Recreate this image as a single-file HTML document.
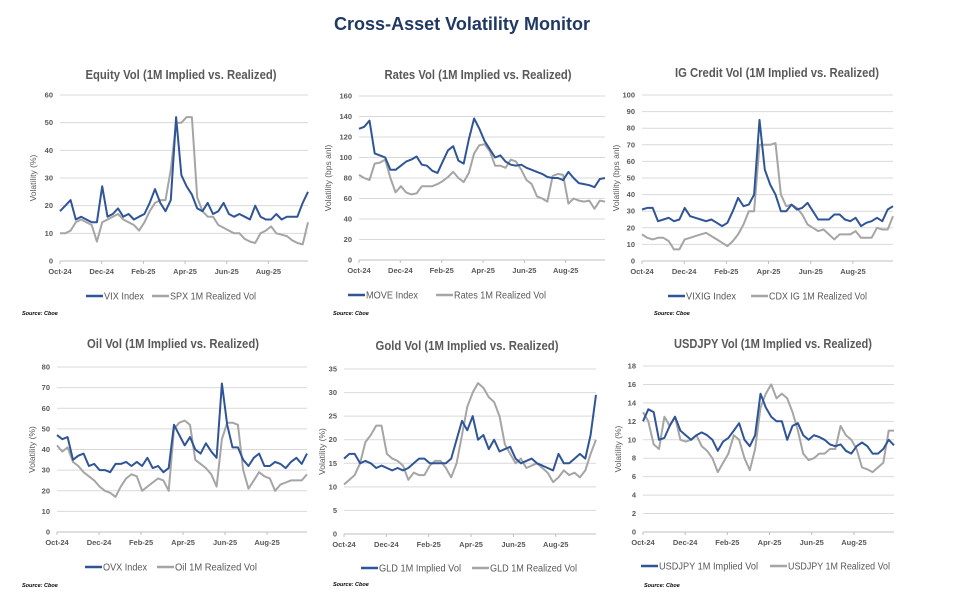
<!DOCTYPE html>
<html><head><meta charset="utf-8"><style>
html,body{margin:0;padding:0;background:#fff;}
svg{display:block;font-family:"Liberation Sans",sans-serif;}
</style></head><body>
<svg id="root" width="971" height="597" viewBox="0 0 971 597" xmlns="http://www.w3.org/2000/svg">
<text x="462" y="30" text-anchor="middle" font-size="18" font-weight="bold" fill="#1f3864" textLength="256" lengthAdjust="spacingAndGlyphs">Cross-Asset Volatility Monitor</text>
</svg>
<script>
// ---- shared axis data ----
const tickMonths = [0, 2, 4, 6, 8, 10];
const tickLabels = ["Oct-24", "Dec-24", "Feb-25", "Apr-25", "Jun-25", "Aug-25"];
const spanMonths = 11.9;

// ---- Equity ----
const vixValues = [18,20,22,15,16,15,14,14,27,16,17,19,16,17,15,16,17,21,26,21,18,22,52,31,27,24,19,18,21,17,18,21,17,16,17,16,15,20,16,15,15,17,15,16,16,16,21,25];
const spxRealized = [10,10,11,14,15,14,13,7,14,15,16,17,15,14,13,11,14,18,21,22,22,33,50,50,52,52,23,18,16,16,13,12,11,10,10,8,7,6.5,10,11,12.5,10,9.5,9,7.5,6.5,6,14];
const equityTicks = [0,10,20,30,40,50,60];
// ---- Rates ----
const moveValues = [128,130,136,104,102,100,88,88,92,96,98,101,93,92,87,85,96,107,111,97,94,118,138,128,116,108,100,102,96,93,92,93,90,88,86,84,81,80,80,78,86,80,75,74,73,71,79,80];
const ratesRealized = [83,80,78,94,95,98,80,66,72,66,64,65,72,72,72,74,77,81,86,80,76,85,104,112,113,106,92,92,90,98,96,88,78,74,62,60,57,82,84,83,55,60,58,57,58,50,58,57];
const ratesTicks = [0,20,40,60,80,100,120,140,160];
// ---- IG credit ----
const vixigValues = [31,32,32,24,25,26,24,25,32,27,26,25,24,25,23,21,23,30,38,33,34,40,85,55,46,40,30,30,34,31,32,35,30,25,25,25,28,28,25,24,26,21,23,24,26,24,31,33];
const cdxRealized = [16,14,13,14,14,12,7,7,13,14,15,16,17,15,13,11,9,12,16,22,30,30,70,70,70,71,40,33,34,32,28,22,20,18,19,16,13,16,16,16,18,14,14,14,20,19,19,27];
const igTicks = [0,10,20,30,40,50,60,70,80,90,100];
// ---- Oil ----
const ovxValues = [47,45,46,35,37,38,32,33,30,30,29,33,33,34,32,34,32,36,31,32,29,31,52,47,42,46,40,38,43,39,36,72,52,41,41,35,32,36,38,32,32,34,33,31,34,36,33,38];
const oilRealized = [42,39,41,34,32,29,27,25,22,20,19,17,22,26,28,27,20,22,24,26,25,20,50,53,54,52,35,33,31,28,22,45,53,53,52,30,21,25,29,27,26,20,23,24,25,25,25,28];
const oilTicks = [0,10,20,30,40,50,60,70,80];
// ---- Gold ----
const gldImplied = [16,17,17,15,15.5,15,14,14.5,14,13.5,14,13.5,14,15,16,16,15,15,15,15,16,20,24,22,25,20,21,18,20,17.5,18,18.5,16,15,15.5,16,15,14.5,14,13.5,17,15,15,16,17,16,21,29.5];
const gldRealized = [10.5,11.5,12.5,15,19.5,21,23,23,17,16,15.5,14.5,11.5,13,12.5,12.5,14.5,15.5,15.5,14,12,15,21,27,30,32,31,29,28,25,19,17,15,16,14,14.5,15,14,13,11,12,13.5,12.5,13,12,13.5,17,20];
const goldTicks = [0,5,10,15,20,25,30,35];
// ---- USDJPY ----
const jpyImplied = [12,13.3,13,10,10.2,11.5,12.5,11,10.5,10,10.5,10.8,10.5,10,8.8,9.8,10.2,11,11.8,10,9.3,10.5,15,13.5,12.5,12,12,10,11.5,11.8,10.5,10,10.5,10.3,10,9.5,9.3,9.5,8.8,8.5,9.3,9.7,9.3,8.5,8.5,9,10,9.4];
const jpyRealized = [13,12,9.5,9,12.5,11.5,12.5,10,9.8,10,10.5,9.3,8.8,8,6.5,7.5,8.5,10.5,10,8,6.7,9,13.5,15,16,14.5,15,14.5,13,11,8.5,7.8,8,8.5,8.5,9,9,11.5,10.5,10,9,7,6.8,6.5,7,7.5,11,11];
const jpyTicks = [0,2,4,6,8,10,12,14,16,18];

const NS = "http://www.w3.org/2000/svg";
const root = document.getElementById("root");
function mk(tag, attrs, parent) {
  const e = document.createElementNS(NS, tag);
  for (const k in attrs) e.setAttribute(k, attrs[k]);
  (parent || root).appendChild(e);
  return e;
}
const BLUE = "#2f5597", GRAY = "#a5a5a5", TXT = "#595959";

function drawChart(cfg) {
  const g = mk("g", {});
  
  
  const maxV = cfg.ticks[cfg.ticks.length - 1];
  const xs = m => cfg.left + (m / spanMonths) * (cfg.right - cfg.left);
  const ys = v => cfg.bottom - (v / maxV) * (cfg.bottom - cfg.top);
  const t = mk("text", {x: cfg.titleX, y: cfg.titleY, "text-anchor": "middle", "font-size": 12.5, "font-weight": "bold", fill: TXT, textLength: cfg.titleW, lengthAdjust: "spacingAndGlyphs"}, g);
  t.textContent = cfg.title;
  
  
  cfg.ticks.forEach(v => {
    const y = ys(v);
    const gl = mk("line", {x1: cfg.left, x2: cfg.right, y1: y, y2: y, stroke: v === 0 ? "#bfbfbf" : "#d9d9d9", "stroke-width": 1}, g);
    
    
    const tl = mk("text", {x: cfg.left - 7, y: y + 2.5, "text-anchor": "end", "font-size": 7.5, "font-weight": "bold", fill: TXT}, g);
    tl.textContent = v;
    
    
  });
  tickMonths.forEach((m, i) => {
    const x = xs(m);
    mk("line", {x1: x, x2: x, y1: cfg.bottom, y2: cfg.bottom + 3, stroke: "#bfbfbf"}, g);
    const xl = mk("text", {x: x, y: cfg.bottom + 13, "text-anchor": "middle", "font-size": 7.5, "font-weight": "bold", fill: TXT}, g);
    xl.textContent = tickLabels[i];
    
    
  });
  const cy = (cfg.top + cfg.bottom) / 2;
  const yt = mk("text", {x: cfg.yTitleX, y: cy, transform: `rotate(-90 ${cfg.yTitleX} ${cy})`, "text-anchor": "middle", "font-size": 8.5, fill: TXT}, g);
  yt.textContent = cfg.yTitle;
  
  
  [[cfg.s2, GRAY, cfg.n2], [cfg.s1, BLUE, cfg.n1]].forEach(([arr, col, nm]) => {
    const n = arr.length;
    const d = arr.map((v, i) => (i ? "L" : "M") + xs(i * spanMonths / (n - 1)).toFixed(1) + " " + ys(v).toFixed(1)).join(" ");
    const p = mk("path", {d: d, fill: "none", stroke: col, "stroke-width": 2, "stroke-linejoin": "round"}, g);
    
    
  });
  const L = cfg.legend;
  [[L[0], BLUE, cfg.n1, L[2]], [L[3], GRAY, cfg.n2, L[5]]].forEach(([lx, col, nm, tw], k) => {
    const lg = mk("g", {}, g);
    
    
    mk("line", {x1: lx, x2: lx + 17, y1: L[6], y2: L[6], stroke: col, "stroke-width": 2.5}, lg);
    const lt = mk("text", {x: lx + 18, y: L[6] + 3.5, "font-size": 10, fill: TXT, textLength: tw, lengthAdjust: "spacingAndGlyphs"}, lg);
    lt.textContent = nm;
  });
  const s = mk("text", {x: cfg.srcX, y: cfg.srcY, "font-size": 5.5, "font-weight": "bold", "font-style": "italic", fill: "#000"}, g);
  s.textContent = "Source: Cboe";
  
  
}

drawChart({id:"equity", title:"Equity Vol (1M Implied vs. Realized)", titleX:181, titleY:79, titleW:191,
  left:60, right:308, top:95, bottom:261, ticks:equityTicks, yTitle:"Volatility (%)", yTitleX:36,
  s1:vixValues, s2:spxRealized, n1:"VIX Index", n2:"SPX 1M Realized Vol",
  legend:[86,0,40,152,0,86,296], srcX:22, srcY:315});
drawChart({id:"rates", title:"Rates Vol (1M Implied vs. Realized)", titleX:478, titleY:79, titleW:187,
  left:359, right:605, top:96, bottom:260, ticks:ratesTicks, yTitle:"Volatility (bps anl)", yTitleX:331,
  s1:moveValues, s2:ratesRealized, n1:"MOVE Index", n2:"Rates 1M Realized Vol",
  legend:[348,0,52,436,0,92,295], srcX:333, srcY:315});
drawChart({id:"ig-credit", title:"IG Credit Vol (1M Implied vs. Realized)", titleX:777, titleY:77, titleW:204,
  left:642, right:893, top:95, bottom:261, ticks:igTicks, yTitle:"Volatility (bps anl)", yTitleX:619,
  s1:vixigValues, s2:cdxRealized, n1:"VIXIG Index", n2:"CDX IG 1M Realized Vol",
  legend:[668,0,50,751,0,98,296], srcX:654, srcY:315});
drawChart({id:"oil", title:"Oil Vol (1M Implied vs. Realized)", titleX:173, titleY:348, titleW:172,
  left:57, right:307, top:367, bottom:532, ticks:oilTicks, yTitle:"Volatility (%)", yTitleX:35,
  s1:ovxValues, s2:oilRealized, n1:"OVX Index", n2:"Oil 1M Realized Vol",
  legend:[85,0,44,157,0,82,567], srcX:22, srcY:587});
drawChart({id:"gold", title:"Gold Vol (1M Implied vs. Realized)", titleX:467, titleY:350, titleW:183,
  left:344, right:596, top:369, bottom:534, ticks:goldTicks, yTitle:"Volatility (%)", yTitleX:325,
  s1:gldImplied, s2:gldRealized, n1:"GLD 1M Implied Vol", n2:"GLD 1M Realized Vol",
  legend:[361,0,82,472,0,87,568], srcX:333, srcY:586});
drawChart({id:"usdjpy", title:"USDJPY Vol (1M Implied vs. Realized)", titleX:773, titleY:348, titleW:198,
  left:643, right:894, top:366, bottom:532, ticks:jpyTicks, yTitle:"Volatility (%)", yTitleX:621,
  s1:jpyImplied, s2:jpyRealized, n1:"USDJPY 1M Implied Vol", n2:"USDJPY 1M Realized Vol",
  legend:[641,0,99,770,0,102,566], srcX:644, srcY:587});
</script>
</body></html>
